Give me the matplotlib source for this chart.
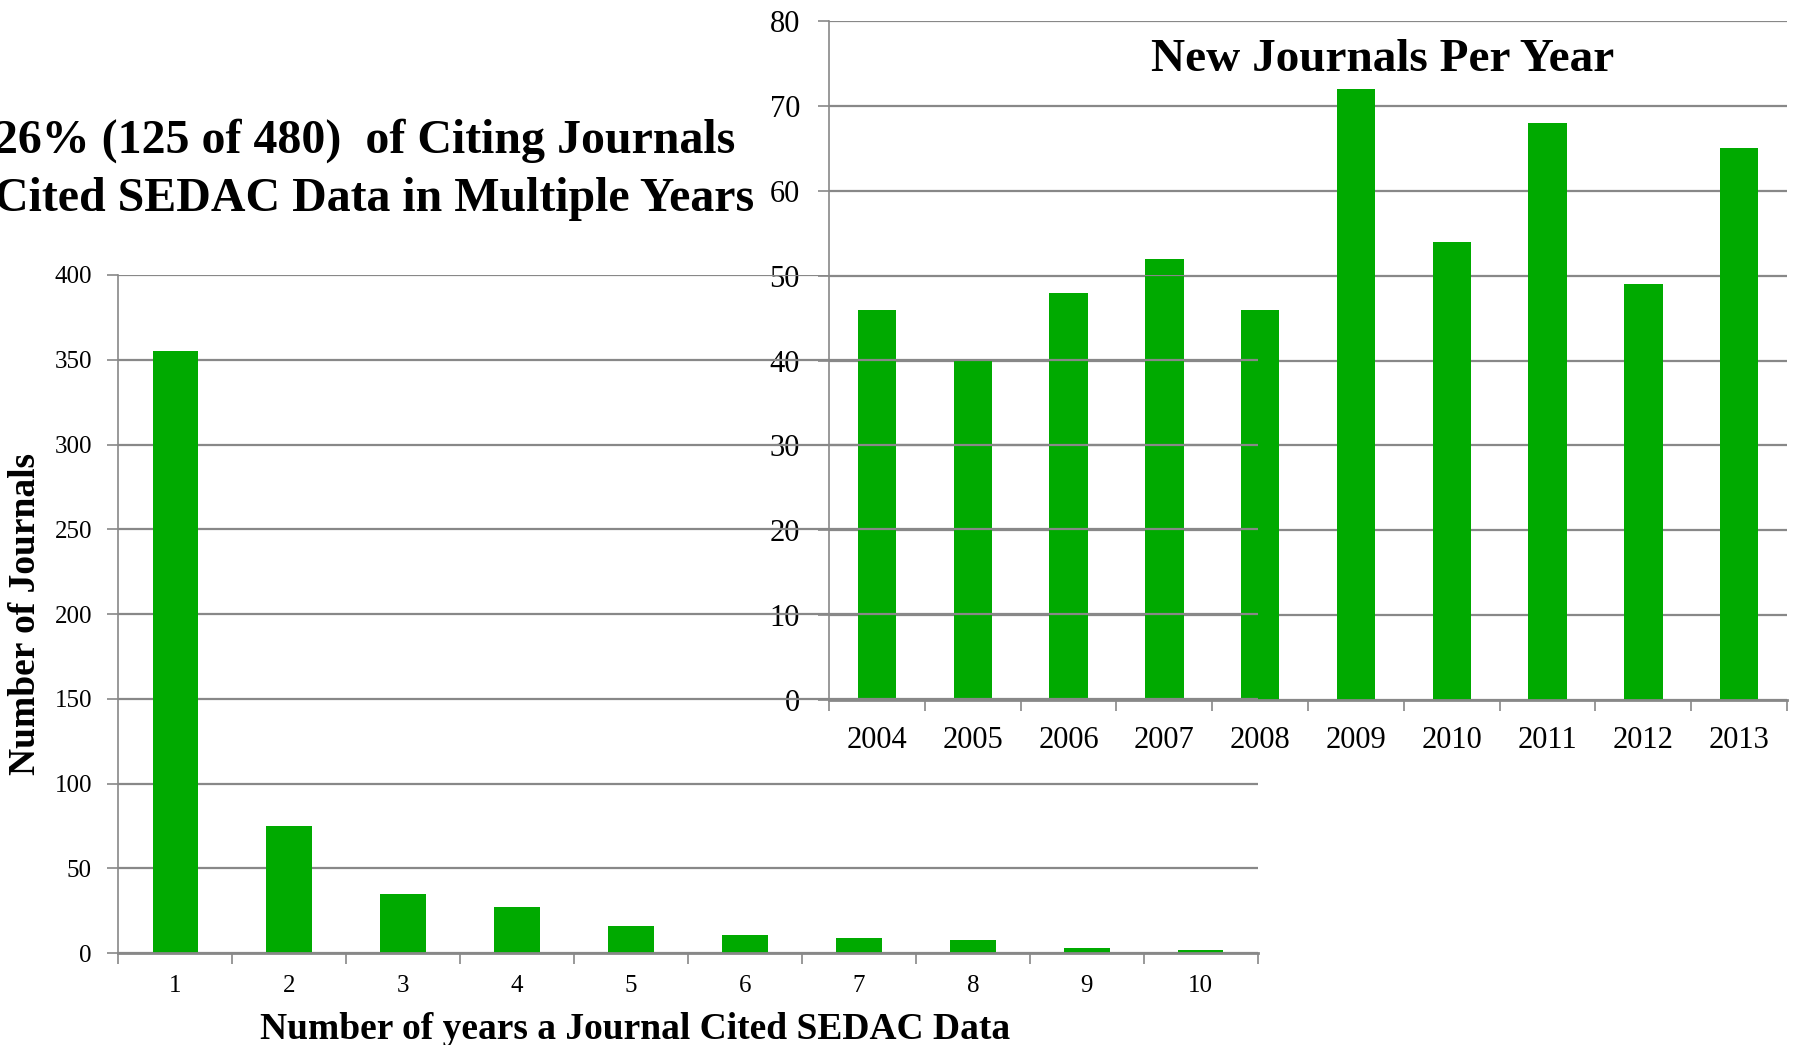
import numpy as np
import matplotlib
matplotlib.use("Agg")
import matplotlib.pyplot as plt
from matplotlib.ticker import FixedLocator

plt.rcParams['font.family'] = ['Liberation Serif', 'DejaVu Serif']

# left chart: how many years each journal cited SEDAC data
years_cited = ['1', '2', '3', '4', '5', '6', '7', '8', '9', '10']
journals_count = [355, 75, 35, 27, 16, 11, 9, 8, 3, 2]

# right chart: new journals per year
years = ['2004', '2005', '2006', '2007', '2008', '2009', '2010', '2011', '2012', '2013']
new_journals = [46, 40, 48, 52, 46, 72, 54, 68, 49, 65]

green = '#00AA00'
gray = '#888888'

fig = plt.figure(figsize=(17.93, 10.45), dpi=100)


def style_axes(ax, n, ymax, ystep, tick_size, xpad, ypad):
    ax.set_xlim(-0.5, n - 0.5)
    ax.set_ylim(0, ymax)
    ax.set_yticks(np.arange(0, ymax + 1, ystep))
    ax.set_xticks(np.arange(n))
    ax.xaxis.set_minor_locator(FixedLocator(np.arange(-0.5, n, 1.0)))
    ax.tick_params(axis='x', which='major', length=0, labelsize=tick_size, pad=xpad)
    ax.tick_params(axis='x', which='minor', length=8, width=1.2, color=gray, direction='out')
    ax.tick_params(axis='y', length=8, width=1.2, color=gray, labelsize=tick_size, pad=ypad)
    ax.grid(axis='y', color=gray, linewidth=1.6)
    ax.set_axisbelow(True)
    for s in ['top', 'right']:
        ax.spines[s].set_visible(False)
    ax.spines['left'].set_color(gray)
    ax.spines['left'].set_linewidth(1.2)
    ax.spines['bottom'].set_color(gray)
    ax.spines['bottom'].set_linewidth(2.0)


# right chart goes underneath
ax2 = fig.add_axes([0.4624, 0.3301, 0.5343, 0.6498])
ax2.bar(np.arange(len(years)), new_journals, width=0.4, color=green)
style_axes(ax2, len(years), 80, 10, 22, 19, 13)
ax2.set_xticklabels(years)
ax2.text(0.578, 0.9265, 'New Journals Per Year', transform=ax2.transAxes,
         ha='center', va='baseline', fontsize=34, fontweight='bold')

# left chart on top, transparent background
ax1 = fig.add_axes([0.066, 0.0878, 0.6354, 0.6491])
ax1.set_facecolor('none')
ax1.bar(np.arange(len(years_cited)), journals_count, width=0.4, color=green)
style_axes(ax1, len(years_cited), 400, 50, 18, 16, 11)
ax1.set_xticklabels(years_cited)

fig.text(635 / 1793, 1 - 1039 / 1045, 'Number of years a Journal Cited SEDAC Data',
         ha='center', va='baseline', fontsize=27, fontweight='bold')
fig.text(8 / 1793, 1 - 614 / 1045, 'Number of Journals', rotation=90,
         ha='left', va='center', fontsize=27, fontweight='bold')

fig.text(-6 / 1793, 1 - 153 / 1045, '26% (125 of 480)  of Citing Journals',
         ha='left', va='baseline', fontsize=34.5, fontweight='bold')
fig.text(-6 / 1793, 1 - 211 / 1045, 'Cited SEDAC Data in Multiple Years',
         ha='left', va='baseline', fontsize=34.5, fontweight='bold')

fig.savefig('out.png', dpi=100)
